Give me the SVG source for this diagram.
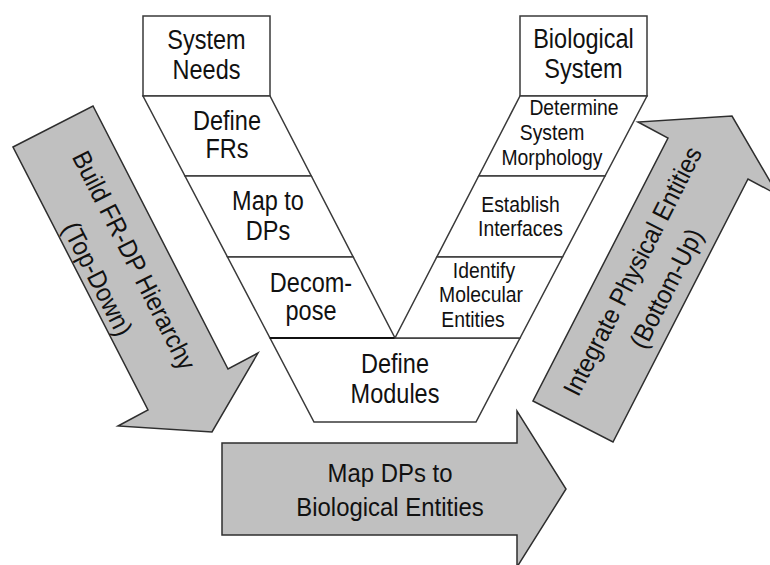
<svg xmlns="http://www.w3.org/2000/svg" width="770" height="565" viewBox="0 0 770 565">
  <style>
    .box { fill: #ffffff; stroke: #3a3a3a; stroke-width: 1.5; stroke-linejoin: miter; }
    .arrow { fill: #c0c0c0; stroke: #2e2e2e; stroke-width: 1.5; stroke-linejoin: miter; }
    .big { font-family: "Liberation Sans", Arial, sans-serif; font-size: 28px; fill: #111111; text-anchor: middle; }
    .small { font-family: "Liberation Sans", Arial, sans-serif; font-size: 21.5px; fill: #111111; text-anchor: middle; }
    .arr { font-family: "Liberation Sans", Arial, sans-serif; font-size: 26px; fill: #111111; text-anchor: middle; }
  </style>
  <rect width="770" height="565" fill="#ffffff"/>

  <!-- Left branch (top-down) -->
  <g id="system-needs">
    <rect class="box" x="143" y="16" width="127" height="80"/>
    <text class="big" transform="translate(206.5,0) scale(0.84,1)"><tspan x="0" y="49">System</tspan><tspan x="0" y="79">Needs</tspan></text>
  </g>
  <g id="define-frs">
    <polygon class="box" points="143,96 270,96 311.3,176 185,176"/>
    <text class="big" transform="translate(227,0) scale(0.84,1)"><tspan x="0" y="130">Define</tspan><tspan x="0" y="158">FRs</tspan></text>
  </g>
  <g id="map-to-dps">
    <polygon class="box" points="185,176 311.3,176 353.2,257 227.5,257"/>
    <text class="big" transform="translate(268,0) scale(0.84,1)"><tspan x="0" y="210">Map to</tspan><tspan x="0" y="240">DPs</tspan></text>
  </g>
  <g id="decompose">
    <polygon class="box" points="227.5,257 353.2,257 395,338 270,338"/>
    <text class="big" transform="translate(311,0) scale(0.84,1)"><tspan x="0" y="292">Decom-</tspan><tspan x="0" y="320">pose</tspan></text>
  </g>

  <!-- Bottom -->
  <g id="define-modules">
    <polygon class="box" points="270,338 520,338 476,422 314,422"/>
    <line x1="270" y1="338" x2="395" y2="338" stroke="#111111" stroke-width="2"/>
    <text class="big" transform="translate(395,0) scale(0.84,1)"><tspan x="0" y="373">Define</tspan><tspan x="0" y="403">Modules</tspan></text>
  </g>

  <!-- Right branch (bottom-up) -->
  <g id="biological-system">
    <rect class="box" x="520" y="16" width="127" height="80"/>
    <text class="big" transform="translate(583.5,0) scale(0.84,1)"><tspan x="0" y="48">Biological</tspan><tspan x="0" y="78">System</tspan></text>
  </g>
  <g id="determine-morphology">
    <polygon class="box" points="520,96 647,96 605,176 478.7,176"/>
    <text class="small" transform="translate(574,0) scale(0.9,1)"><tspan x="0" y="115">Determine</tspan></text>
    <text class="small" transform="translate(552,0) scale(0.9,1)"><tspan x="0" y="140">System</tspan><tspan x="0" y="165">Morphology</tspan></text>
  </g>
  <g id="establish-interfaces">
    <polygon class="box" points="478.7,176 605,176 562.5,257 436.8,257"/>
    <text class="small" transform="translate(520.5,0) scale(0.9,1)"><tspan x="0" y="212">Establish</tspan><tspan x="0" y="236">Interfaces</tspan></text>
  </g>
  <g id="identify-entities">
    <polygon class="box" points="436.8,257 562.5,257 520,338 395,338"/>
    <text class="small" transform="translate(484,0) scale(0.9,1)"><tspan x="0" y="278">Identify</tspan></text>
    <text class="small" transform="translate(481,0) scale(0.9,1)"><tspan x="0" y="302">Molecular</tspan></text>
    <text class="small" transform="translate(473,0) scale(0.9,1)"><tspan x="0" y="327">Entities</tspan></text>
  </g>

  <!-- Process arrows -->
  <g id="arrow-top-down">
    <polygon class="arrow" points="13,147 93,106 228,369 258,353 212,432 118,426 148,410"/>
    <text class="arr" transform="translate(123.5,265.7) rotate(63.1) scale(0.92,1)"><tspan x="0" y="-3">Build FR-DP Hierarchy</tspan><tspan x="0" y="38">(Top-Down)</tspan></text>
  </g>
  <g id="arrow-map">
    <polygon class="arrow" points="222,443 517,443 517,411 566,489 517,567 517,535 222,535"/>
    <text class="arr" transform="translate(390,0) scale(0.92,1)"><tspan x="0" y="482">Map DPs to</tspan><tspan x="0" y="516">Biological Entities</tspan></text>
  </g>
  <g id="arrow-bottom-up">
    <polygon class="arrow" points="533,401 613,442 748,179 778,195 732,116 638,122 668,138"/>
    <text class="arr" transform="translate(645.8,277.9) rotate(-63.1) scale(0.92,1)"><tspan x="0" y="-6">Integrate Physical Entities</tspan><tspan x="0" y="32">(Bottom-Up)</tspan></text>
  </g>

  <g id="connectors"/>
</svg>
